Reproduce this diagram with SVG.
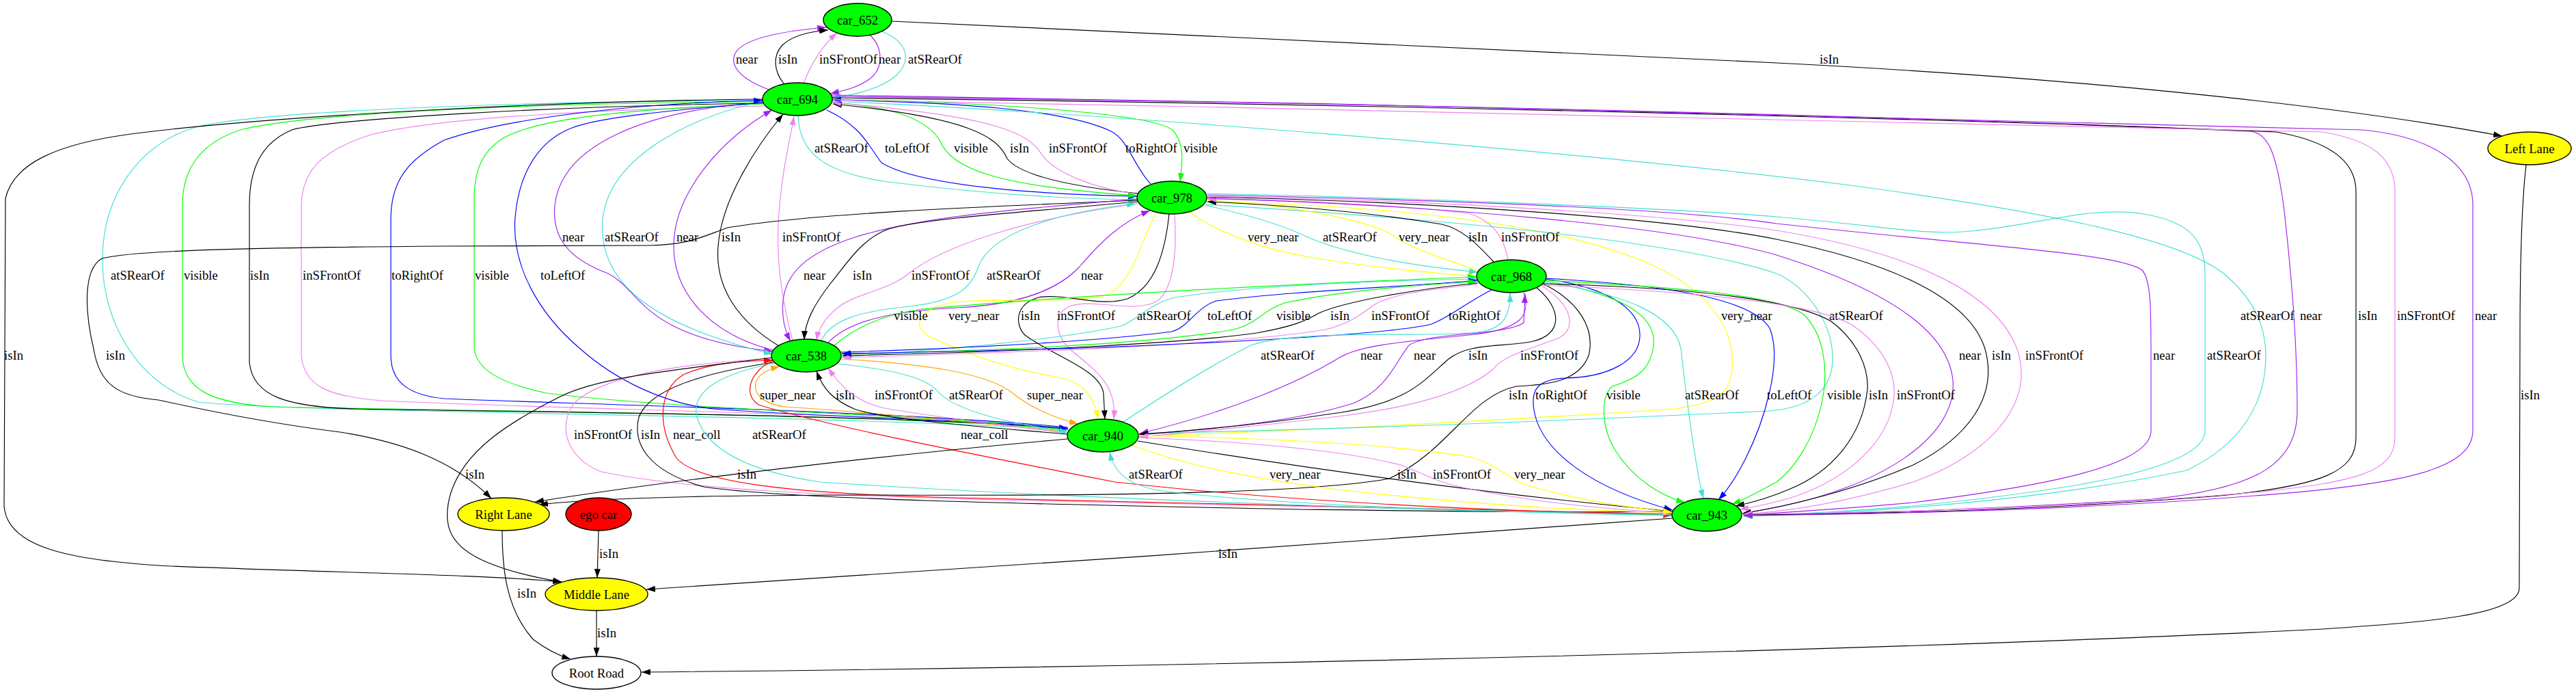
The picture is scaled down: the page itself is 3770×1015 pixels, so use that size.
<svg xmlns="http://www.w3.org/2000/svg" width="3770" height="1015" viewBox="0 0 3770 1015">
<style>
.n ellipse{stroke:#000;stroke-width:1.35}
.n text{font-family:"Liberation Serif","Times New Roman",serif;font-size:18.67px;text-anchor:middle;fill:#000}
.car ellipse{fill:#00ff00}
.lane ellipse{fill:#ffff00}
.e path{fill:none;stroke-width:1.15}
.e text{font-family:"Liberation Serif","Times New Roman",serif;font-size:18.67px;fill:#000}
.k{stroke:#000;marker-end:url(#mk)}
.p{stroke:#a020f0;marker-end:url(#mp)}
.v{stroke:#ee82ee;marker-end:url(#mv)}
.t{stroke:#40e0d0;marker-end:url(#mt)}
.b{stroke:#0000ff;marker-end:url(#mb)}
.g{stroke:#00ff00;marker-end:url(#mg)}
.y{stroke:#ffff00;marker-end:url(#my)}
.o{stroke:#ffa500;marker-end:url(#mo)}
.r{stroke:#ff0000;marker-end:url(#mr)}
</style>
<defs>
<marker id="mk" viewBox="0 0 10 7" refX="10" refY="3.5" markerUnits="userSpaceOnUse" markerWidth="13" markerHeight="9" orient="auto"><path d="M0,0L10,3.5L0,7z" fill="#000"/></marker>
<marker id="mp" viewBox="0 0 10 7" refX="10" refY="3.5" markerUnits="userSpaceOnUse" markerWidth="13" markerHeight="9" orient="auto"><path d="M0,0L10,3.5L0,7z" fill="#a020f0"/></marker>
<marker id="mv" viewBox="0 0 10 7" refX="10" refY="3.5" markerUnits="userSpaceOnUse" markerWidth="13" markerHeight="9" orient="auto"><path d="M0,0L10,3.5L0,7z" fill="#ee82ee"/></marker>
<marker id="mt" viewBox="0 0 10 7" refX="10" refY="3.5" markerUnits="userSpaceOnUse" markerWidth="13" markerHeight="9" orient="auto"><path d="M0,0L10,3.5L0,7z" fill="#40e0d0"/></marker>
<marker id="mb" viewBox="0 0 10 7" refX="10" refY="3.5" markerUnits="userSpaceOnUse" markerWidth="13" markerHeight="9" orient="auto"><path d="M0,0L10,3.5L0,7z" fill="#0000ff"/></marker>
<marker id="mg" viewBox="0 0 10 7" refX="10" refY="3.5" markerUnits="userSpaceOnUse" markerWidth="13" markerHeight="9" orient="auto"><path d="M0,0L10,3.5L0,7z" fill="#00ff00"/></marker>
<marker id="my" viewBox="0 0 10 7" refX="10" refY="3.5" markerUnits="userSpaceOnUse" markerWidth="13" markerHeight="9" orient="auto"><path d="M0,0L10,3.5L0,7z" fill="#ffff00"/></marker>
<marker id="mo" viewBox="0 0 10 7" refX="10" refY="3.5" markerUnits="userSpaceOnUse" markerWidth="13" markerHeight="9" orient="auto"><path d="M0,0L10,3.5L0,7z" fill="#ffa500"/></marker>
<marker id="mr" viewBox="0 0 10 7" refX="10" refY="3.5" markerUnits="userSpaceOnUse" markerWidth="13" markerHeight="9" orient="auto"><path d="M0,0L10,3.5L0,7z" fill="#ff0000"/></marker>
</defs>
<rect width="3770" height="1015" fill="#fff"/>
<g id="edges">
<g class="e"><path class="p" d="M1125,131 C1090,118 1068,100 1075,80 C1085,55 1150,45 1209,40"/><text x="1077" y="93">near</text></g>
<g class="e"><path class="k" d="M1147,122 C1133,105 1130,82 1145,66 C1160,52 1185,46 1212,44"/><text x="1139" y="93">isIn</text></g>
<g class="e"><path class="v" d="M1176,122 C1186,96 1200,70 1225,48"/><text x="1199" y="93">inSFrontOf</text></g>
<g class="e"><path class="p" d="M1274,52 C1292,70 1294,100 1272,116 C1257,127 1238,132 1215,137"/><text x="1286" y="93">near</text></g>
<g class="e"><path class="t" d="M1291,46 C1325,60 1337,85 1312,110 C1292,128 1255,138 1218,143"/><text x="1329" y="93">atSRearOf</text></g>
<g class="e"><path class="k" d="M1305,31 L2600,92 C3000,112 3400,150 3662,199"/><text x="2663" y="93">isIn</text></g>
<g class="e"><path class="t" d="M1168,169 C1170,220 1200,252 1300,266 C1450,285 1580,291 1664,292"/><text x="1192" y="223">atSRearOf</text></g>
<g class="e"><path class="b" d="M1210,161 C1262,185 1272,215 1290,238 C1350,275 1550,285 1664,287"/><text x="1295" y="223">toLeftOf</text></g>
<g class="e"><path class="g" d="M1217,150 C1300,155 1355,172 1375,205 C1392,245 1450,272 1664,286"/><text x="1396" y="223">visible</text></g>
<g class="e"><path class="k" d="M1666,283 C1560,272 1492,255 1474,232 C1460,200 1420,172 1219,152"/><text x="1478" y="223">isIn</text></g>
<g class="e"><path class="v" d="M1666,284 C1600,276 1542,252 1524,225 C1505,195 1460,170 1218,150"/><text x="1535" y="223">inSFrontOf</text></g>
<g class="e"><path class="b" d="M1685,270 C1660,245 1652,205 1626,192 C1560,160 1400,150 1218,146"/><text x="1647" y="223">toRightOf</text></g>
<g class="e"><path class="g" d="M1218,145 C1450,150 1682,165 1716,190 C1735,210 1730,242 1727,266"/><text x="1732" y="223">visible</text></g>
<g class="e"><path class="p" d="M1117,150 C950,160 822,210 812,300 C806,360 850,385 890,400 C940,425 935,492 1131,514"/><text x="823" y="353">near</text></g>
<g class="e"><path class="t" d="M1118,148 C1010,170 892,230 882,320 C875,400 930,470 1131,518"/><text x="885" y="353">atSRearOf</text></g>
<g class="e"><path class="p" d="M1135,513 C1040,490 986,430 986,360 C986,280 1060,200 1130,161"/><text x="990" y="353">near</text></g>
<g class="e"><path class="k" d="M1140,506 C1080,470 1046,420 1051,360 C1056,290 1110,210 1146,167"/><text x="1056" y="353">isIn</text></g>
<g class="e"><path class="v" d="M1160,498 C1150,460 1136,400 1139,330 C1142,260 1155,210 1162,170"/><text x="1145" y="353">inSFrontOf</text></g>
<g class="e"><path class="t" d="M1116,147 C800,148 400,160 290,185 C200,210 150,290 150,380 C150,470 200,560 290,588 C450,605 1200,605 1563,629"/><text x="162" y="409">atSRearOf</text></g>
<g class="e"><path class="g" d="M1116,149 C800,150 450,165 352,190 C290,210 267,250 267,300 L267,520 C268,570 310,590 400,595 C700,602 1300,605 1563,628"/><text x="269" y="409">visible</text></g>
<g class="e"><path class="k" d="M1117,151 C800,155 480,175 427,190 C380,210 365,250 365,300 L365,530 C370,580 420,595 520,598 C800,603 1300,606 1563,627"/><text x="366" y="409">isIn</text></g>
<g class="e"><path class="v" d="M1118,155 C900,160 650,170 543,197 C470,220 442,250 441,300 L441,520 C445,565 480,580 560,586 C800,598 1300,605 1563,626"/><text x="443" y="409">inSFrontOf</text></g>
<g class="e"><path class="b" d="M1563,625 C1300,600 800,590 650,583 C600,578 572,560 572,520 L572,320 C572,262 600,232 650,205 C750,170 950,150 1116,147"/><text x="573" y="409">toRightOf</text></g>
<g class="e"><path class="g" d="M1117,152 C900,160 790,175 740,200 C705,220 694,250 694,290 L694,510 C698,540 730,560 800,575 C1000,600 1350,606 1563,627"/><text x="695" y="409">visible</text></g>
<g class="e"><path class="b" d="M1116,150 C1000,160 880,170 837,187 C790,205 760,250 754,317 C748,390 790,460 849,510 C900,555 970,590 1044,598 C1200,610 1450,615 1563,627"/><text x="791" y="409">toLeftOf</text></g>
<g class="e"><path class="k" d="M1116,145 C800,148 400,170 199,195 C80,210 20,240 8,290 L6,740 C10,800 100,820 250,828 C500,838 700,840 822,851"/><text x="6" y="526">isIn</text></g>
<g class="e"><path class="k" d="M1665,293 C1500,300 1200,310 1065,333 C1030,345 1010,358 950,359 L650,360 C400,362 200,365 149,378 C120,395 125,460 137,510 C145,560 170,580 232,585 C300,600 400,620 498,632 C580,645 660,670 719,729"/><text x="155" y="526">isIn</text></g>
<g class="e"><path class="p" d="M1664,291 C1500,305 1350,316 1251,347 C1180,370 1150,400 1146,440 C1144,465 1148,482 1157,499"/><text x="1176" y="409">near</text></g>
<g class="e"><path class="k" d="M1665,295 C1500,310 1350,320 1300,335 C1260,350 1240,385 1215,415 C1192,445 1178,470 1177,497"/><text x="1248" y="409">isIn</text></g>
<g class="e"><path class="v" d="M1665,298 C1500,320 1380,360 1330,400 C1300,425 1250,430 1226,450 C1207,465 1198,480 1195,498"/><text x="1334" y="409">inSFrontOf</text></g>
<g class="e"><path class="t" d="M1202,498 C1217,466 1262,455 1332,448 C1402,440 1422,420 1432,390 C1450,340 1550,310 1662,298"/><text x="1444" y="409">atSRearOf</text></g>
<g class="e"><path class="p" d="M1212,501 C1242,470 1302,455 1402,450 C1502,445 1552,420 1580,390 C1610,355 1640,325 1683,308"/><text x="1582" y="409">near</text></g>
<g class="e"><path class="y" d="M1692,311 C1670,350 1660,410 1623,430 C1580,445 1450,435 1395,442 C1350,450 1330,475 1360,492 C1420,520 1480,540 1540,550 C1585,558 1600,575 1607,613"/><text x="1388" y="468">very_near</text></g>
<g class="e"><path class="k" d="M1711,313 C1705,370 1690,420 1650,437 C1610,450 1560,428 1520,435 C1485,445 1485,475 1500,490 C1540,520 1610,540 1615,575 L1617,613"/><text x="1494" y="468">isIn</text></g>
<g class="e"><path class="v" d="M1719,313 C1722,360 1720,420 1694,440 C1660,460 1600,435 1565,448 C1540,460 1545,490 1565,510 C1600,540 1635,560 1630,613"/><text x="1547" y="468">inSFrontOf</text></g>
<g class="e"><path class="y" d="M1766,295 C2000,300 2250,320 2400,380 C2500,420 2540,480 2535,540 C2530,580 2510,590 2450,598 C2200,615 1900,630 1667,638"/><text x="2519" y="468">very_near</text></g>
<g class="e"><path class="t" d="M1765,299 C2100,320 2450,350 2600,400 C2645,420 2680,470 2682,520 C2684,570 2650,596 2590,601 C2300,615 1950,628 1667,634"/><text x="2677" y="468">atSRearOf</text></g>
<g class="e"><path class="y" d="M1740,309 C1780,340 1850,365 1922,377 C2000,390 2100,400 2161,404"/><text x="1826" y="353">very_near</text></g>
<g class="e"><path class="t" d="M1764,300 C1830,315 1880,330 1914,347 C1980,375 2080,390 2163,398"/><text x="1936" y="353">atSRearOf</text></g>
<g class="e"><path class="y" d="M2163,395 C2100,375 2060,360 2040,345 C2010,325 1900,300 1767,293"/><text x="2047" y="353">very_near</text></g>
<g class="e"><path class="k" d="M2186,383 C2160,355 2140,335 2110,328 C2000,310 1880,300 1767,295"/><text x="2149" y="353">isIn</text></g>
<g class="e"><path class="v" d="M2207,380 C2203,355 2190,325 2150,312 C2050,300 1900,293 1767,291"/><text x="2197" y="353">inSFrontOf</text></g>
<g class="e"><path class="p" d="M1766,290 C2100,300 2450,330 2600,373 C2750,420 2850,480 2858,555 C2866,640 2750,712 2600,742 L2550,751"/><text x="2867" y="526">near</text></g>
<g class="e"><path class="k" d="M1767,288 C2100,295 2450,320 2600,350 C2750,380 2880,430 2905,510 C2925,580 2880,640 2800,680 C2720,715 2620,740 2550,751"/><text x="2915" y="526">isIn</text></g>
<g class="e"><path class="v" d="M1767,287 C2100,292 2450,315 2600,337 C2800,370 2930,430 2955,520 C2975,600 2900,670 2800,705 C2700,735 2620,748 2551,752"/><text x="2964" y="526">inSFrontOf</text></g>
<g class="e"><path class="p" d="M1767,285 C2100,292 2450,305 2600,327 C2900,360 3100,370 3135,395 C3148,410 3148,450 3148,520 L3148,630 C3148,680 3000,710 2800,735 C2680,746 2600,750 2551,753"/><text x="3151" y="526">near</text></g>
<g class="e"><path class="t" d="M1766,283 C2100,290 2450,305 2600,317 C2750,330 2820,345 2884,338 C2980,330 3060,300 3137,313 C3210,325 3227,355 3227,400 L3227,630 C3227,690 3000,720 2800,740 C2680,750 2600,753 2552,755"/><text x="3230" y="526">atSRearOf</text></g>
<g class="e"><path class="t" d="M1218,148 C1600,165 2300,220 2700,270 C3000,310 3200,350 3260,405 C3300,440 3316,480 3316,520 C3316,590 3280,650 3200,688 C3000,730 2750,750 2552,755"/><text x="3279" y="468">atSRearOf</text></g>
<g class="e"><path class="p" d="M1216,141 C2000,150 2800,170 3294,192 C3322,196 3332,230 3342,300 C3356,420 3362,520 3362,600 C3362,680 3300,715 3150,730 C2900,745 2700,752 2552,753"/><text x="3366" y="468">near</text></g>
<g class="e"><path class="k" d="M1217,143 C2000,152 2900,175 3331,193 C3400,205 3448,230 3448,280 L3448,640 C3448,690 3400,710 3250,725 C3000,745 2750,752 2552,753"/><text x="3451" y="468">isIn</text></g>
<g class="e"><path class="v" d="M1217,146 C2000,160 2900,180 3399,193 C3470,205 3505,230 3505,280 L3505,640 C3505,690 3450,705 3300,720 C3050,742 2750,750 2552,752"/><text x="3508" y="468">inSFrontOf</text></g>
<g class="e"><path class="p" d="M1217,139 C2000,150 3000,175 3458,190 C3560,200 3619,240 3619,300 L3619,630 C3619,690 3500,710 3300,725 C3050,745 2750,752 2552,754"/><text x="3622" y="468">near</text></g>
<g class="e"><path class="g" d="M1220,506 C1250,480 1290,460 1350,452 C1600,430 1900,415 2161,405"/><text x="1308" y="468">visible</text></g>
<g class="e"><path class="t" d="M1231,522 C1400,510 1560,495 1640,477 C1670,465 1680,445 1720,435 C1850,415 2050,410 2162,408"/><text x="1664" y="468">atSRearOf</text></g>
<g class="e"><path class="b" d="M1231,515 C1400,510 1600,500 1715,485 C1740,478 1750,450 1780,440 C1900,425 2050,420 2162,410"/><text x="1767" y="468">toLeftOf</text></g>
<g class="e"><path class="g" d="M1232,518 C1500,512 1700,500 1800,483 C1840,475 1845,455 1880,443 C1950,428 2050,418 2162,412"/><text x="1868" y="468">visible</text></g>
<g class="e"><path class="k" d="M2163,414 C2080,422 1970,440 1930,458 C1910,470 1890,478 1839,487 C1750,500 1500,515 1233,520"/><text x="1947" y="468">isIn</text></g>
<g class="e"><path class="v" d="M2162,416 C2080,425 2040,430 2012,445 C1990,462 1970,475 1940,482 C1800,505 1500,515 1232,523"/><text x="2007" y="468">inSFrontOf</text></g>
<g class="e"><path class="b" d="M2183,424 C2150,440 2120,465 2095,474 C2050,485 1900,495 1750,502 C1550,512 1350,515 1232,517"/><text x="2120" y="468">toRightOf</text></g>
<g class="e"><path class="o" d="M1562,632 C1450,620 1300,605 1150,595 C1110,590 1100,570 1108,555 C1115,545 1125,540 1141,536"/><text x="1112" y="584">super_near</text></g>
<g class="e"><path class="k" d="M1562,635 C1450,625 1300,615 1250,598 C1220,585 1205,570 1195,543"/><text x="1223" y="584">isIn</text></g>
<g class="e"><path class="v" d="M1562,634 C1480,622 1350,608 1290,596 C1250,585 1230,565 1212,538"/><text x="1280" y="584">inSFrontOf</text></g>
<g class="e"><path class="t" d="M1226,532 C1300,540 1350,550 1370,570 C1390,595 1450,615 1563,632"/><text x="1389" y="584">atSRearOf</text></g>
<g class="e"><path class="o" d="M1230,525 C1350,532 1440,545 1478,572 C1500,590 1530,608 1578,620"/><text x="1503" y="584">super_near</text></g>
<g class="e"><path class="v" d="M1130,525 C1000,530 880,550 840,590 C815,625 830,670 880,690 C1000,715 1200,725 1500,732 C1900,742 2200,748 2447,752"/><text x="840" y="642">inSFrontOf</text></g>
<g class="e"><path class="k" d="M1132,530 C1030,545 950,570 935,610 C925,650 950,690 1030,712 C1150,730 1500,737 1900,745 C2150,748 2300,750 2447,748"/><text x="938" y="642">isIn</text></g>
<g class="e"><path class="r" d="M2447,752 C2200,745 1800,735 1400,728 C1150,722 1020,705 990,670 C960,620 965,570 1000,548 C1040,530 1090,528 1131,527"/><text x="985" y="642">near_coll</text></g>
<g class="e"><path class="t" d="M1135,531 C1060,545 1010,570 1020,610 C1035,660 1100,690 1200,705 C1500,725 2000,745 2447,754"/><text x="1101" y="642">atSRearOf</text></g>
<g class="e"><path class="r" d="M1133,527 C1100,540 1085,575 1110,592 C1200,620 1400,660 1632,705 C1900,735 2200,748 2447,753"/><text x="1406" y="642">near_coll</text></g>
<g class="e"><path class="t" d="M1644,617 C1700,580 1780,530 1831,505 C1900,480 2100,495 2170,485 C2205,478 2210,455 2210,429"/><text x="1845" y="526">atSRearOf</text></g>
<g class="e"><path class="p" d="M2230,428 C2240,460 2230,482 2150,490 C2050,500 1992,505 1962,522 C1900,560 1800,602 1668,634"/><text x="1991" y="526">near</text></g>
<g class="e"><path class="p" d="M1668,636 C1800,625 1900,615 1980,590 C2030,570 2042,530 2062,505 C2090,485 2200,492 2230,472 L2232,430"/><text x="2069" y="526">near</text></g>
<g class="e"><path class="k" d="M2249,421 C2285,450 2290,490 2240,500 C2190,508 2150,502 2120,525 C2080,560 2060,590 1950,605 C1850,620 1750,630 1667,635"/><text x="2149" y="526">isIn</text></g>
<g class="e"><path class="v" d="M2255,417 C2300,445 2310,480 2280,495 C2240,510 2200,520 2185,540 C2150,570 2080,595 1950,610 C1850,622 1750,632 1667,639"/><text x="2225" y="526">inSFrontOf</text></g>
<g class="e"><path class="k" d="M2258,415 C2310,440 2335,480 2325,520 C2310,560 2260,563 2219,565 C2150,580 2120,660 2033,700 C1900,725 1500,725 1300,724 C1100,724 900,726 789,738"/><text x="2208" y="584">isIn</text></g>
<g class="e"><path class="b" d="M2262,408 C2350,420 2400,450 2400,490 C2400,530 2350,552 2290,553 C2250,555 2240,570 2245,600 C2255,660 2330,715 2448,746"/><text x="2247" y="584">toRightOf</text></g>
<g class="e"><path class="g" d="M2262,411 C2370,430 2425,460 2420,505 C2415,545 2390,555 2360,565 C2340,580 2345,630 2365,660 C2390,700 2430,725 2466,735"/><text x="2351" y="584">visible</text></g>
<g class="e"><path class="t" d="M2260,413 C2380,430 2450,460 2460,510 C2468,580 2480,680 2493,729"/><text x="2466" y="584">atSRearOf</text></g>
<g class="e"><path class="b" d="M2262,407 C2400,415 2560,430 2590,480 C2610,530 2580,620 2555,670 C2540,700 2525,720 2515,731"/><text x="2586" y="584">toLeftOf</text></g>
<g class="e"><path class="g" d="M2262,410 C2450,420 2600,430 2640,460 C2670,490 2675,540 2668,580 C2655,650 2620,690 2600,705 C2580,715 2560,728 2535,737"/><text x="2674" y="584">visible</text></g>
<g class="e"><path class="k" d="M2259,415 C2450,420 2620,435 2680,470 C2720,500 2735,540 2733,570 C2725,640 2680,690 2620,715 C2590,728 2565,735 2540,740"/><text x="2735" y="584">isIn</text></g>
<g class="e"><path class="v" d="M2257,417 C2450,425 2650,440 2710,475 C2755,505 2775,545 2772,580 C2765,650 2700,700 2630,725 C2600,735 2575,740 2546,745"/><text x="2776" y="584">inSFrontOf</text></g>
<g class="e"><path class="t" d="M2447,753 C2200,748 1900,742 1700,718 C1650,710 1630,690 1624,661"/><text x="1652" y="700">atSRearOf</text></g>
<g class="e"><path class="y" d="M1656,651 C1720,675 1800,695 1950,715 C2150,738 2300,746 2447,750"/><text x="1858" y="700">very_near</text></g>
<g class="e"><path class="k" d="M1665,645 C1850,675 2150,720 2448,748"/><text x="2045" y="700">isIn</text></g>
<g class="e"><path class="v" d="M1666,640 C1800,645 1950,655 2050,680 C2090,695 2100,705 2150,715 C2250,735 2350,745 2447,750"/><text x="2097" y="700">inSFrontOf</text></g>
<g class="e"><path class="y" d="M1666,637 C1800,640 2000,645 2150,668 C2190,678 2200,695 2230,708 C2300,730 2380,742 2447,749"/><text x="2216" y="700">very_near</text></g>
<g class="e"><path class="k" d="M1562,642 C1300,665 1000,700 783,734"/><text x="1079" y="700">isIn</text></g>
<g class="e"><path class="k" d="M2447,758 C2000,790 1400,835 946,862"/><text x="1783" y="816">isIn</text></g>
<g class="e"><path class="k" d="M3697,241 C3690,300 3688,400 3688,500 L3687,860 C3687,900 3550,910 3400,920 C2800,950 1800,975 939,983"/><text x="3689" y="584">isIn</text></g>
<g class="e"><path class="k" d="M876,776 L874,845"/><text x="877" y="816">isIn</text></g>
<g class="e"><path class="k" d="M735,776 C735,830 740,890 780,935 C800,950 815,958 835,964"/><text x="757" y="874">isIn</text></g>
<g class="e"><path class="k" d="M873,893 L873,960"/><text x="874" y="932">isIn</text></g>
<g class="e"><path class="k" d="M1130,523 C1000,540 880,550 820,580 C740,620 680,660 660,720 C645,770 660,800 712,822 C750,838 790,846 822,851"/><text x="681" y="700">isIn</text></g>
</g>
<g id="nodes">
<g id="car_652" class="n car"><ellipse cx="1255" cy="29" rx="50" ry="24"/><text x="1255" y="35.5">car_652</text></g>
<g id="car_694" class="n car"><ellipse cx="1167" cy="145" rx="51" ry="24"/><text x="1167" y="151.5">car_694</text></g>
<g id="car_978" class="n car"><ellipse cx="1715" cy="289" rx="51" ry="24"/><text x="1715" y="295.5">car_978</text></g>
<g id="car_968" class="n car"><ellipse cx="2212" cy="404" rx="51" ry="24"/><text x="2212" y="410.5">car_968</text></g>
<g id="car_538" class="n car"><ellipse cx="1180" cy="520" rx="51" ry="24"/><text x="1180" y="526.5">car_538</text></g>
<g id="car_940" class="n car"><ellipse cx="1614" cy="637" rx="52" ry="24"/><text x="1614" y="643.5">car_940</text></g>
<g id="car_943" class="n car"><ellipse cx="2498" cy="753" rx="51" ry="24"/><text x="2498" y="759.5">car_943</text></g>
<g id="left_lane" class="n lane"><ellipse cx="3702" cy="217" rx="61" ry="24"/><text x="3702" y="223.5">Left Lane</text></g>
<g id="right_lane" class="n lane"><ellipse cx="737" cy="752" rx="67" ry="24"/><text x="737" y="758.5">Right Lane</text></g>
<g id="ego_car" class="n"><ellipse cx="876" cy="752" rx="48" ry="24" fill="#ff0000"/><text x="876" y="758.5">ego car</text></g>
<g id="middle_lane" class="n lane"><ellipse cx="873" cy="869" rx="75" ry="24"/><text x="873" y="875.5">Middle Lane</text></g>
<g id="root_road" class="n"><ellipse cx="873" cy="984" rx="65" ry="24" fill="#fff"/><text x="873" y="990.5">Root Road</text></g>
</g>
</svg>
